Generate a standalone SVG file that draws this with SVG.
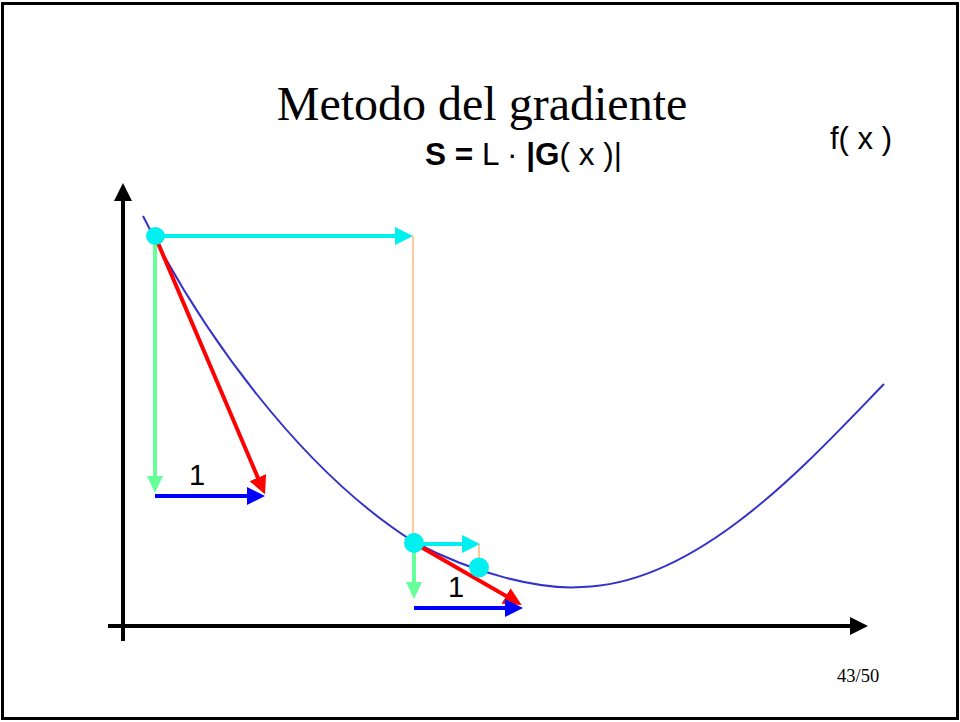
<svg xmlns="http://www.w3.org/2000/svg" width="960" height="722" viewBox="0 0 960 722">
<style>
.ser{font-family:"Liberation Serif","Times New Roman",serif;fill:#000}
.san{font-family:"Liberation Sans",Arial,sans-serif;fill:#000}
.ln{fill:none;stroke-width:4}
</style>
<defs>
<marker id="hk" markerUnits="userSpaceOnUse" markerWidth="20" markerHeight="20" refX="8" refY="9" orient="auto"><path d="M0,0 L18,9 L0,18 z" fill="#000"/></marker>
<marker id="hc" markerUnits="userSpaceOnUse" markerWidth="20" markerHeight="20" refX="8" refY="9" orient="auto"><path d="M0,0 L18,9 L0,18 z" fill="#00f0f0"/></marker>
<marker id="hg" markerUnits="userSpaceOnUse" markerWidth="20" markerHeight="20" refX="8" refY="8" orient="auto"><path d="M0,0 L17,8 L0,16 z" fill="#66ff99"/></marker>
<marker id="hr" markerUnits="userSpaceOnUse" markerWidth="20" markerHeight="20" refX="8" refY="9" orient="auto"><path d="M0,0 L18,9 L0,18 z" fill="#ff0000"/></marker>
<marker id="hb" markerUnits="userSpaceOnUse" markerWidth="20" markerHeight="20" refX="8" refY="9" orient="auto"><path d="M0,0 L18,9 L0,18 z" fill="#0000ff"/></marker>
</defs>
<rect x="2.5" y="3.5" width="955" height="715" fill="#fff" stroke="#000" stroke-width="3"/>
<text class="ser" x="482" y="120" font-size="48" text-anchor="middle">Metodo del gradiente</text>
<text class="san" x="425" y="165" font-size="31.5"><tspan font-weight="bold">S =</tspan> L · <tspan font-weight="bold">|G</tspan>( x )|</text>
<text class="san" x="830" y="149" font-size="31">f( x )</text>
<text class="ser" x="837" y="682" font-size="18.5">43/50</text>
<g id="axes">
<line class="ln" x1="123" y1="641" x2="123" y2="193" stroke="#000" marker-end="url(#hk)"/>
<line class="ln" x1="108" y1="626" x2="858" y2="626" stroke="#000" marker-end="url(#hk)"/>
</g>
<g id="curve">
<path d="M143,216 C200,330 300,470 414,542 C475,574 540,590 582,587 C700,584 810,460 884,384" fill="none" stroke="#3333cc" stroke-width="2"/>
</g>
<g id="connectors">
<line x1="413" y1="236" x2="413" y2="542" stroke="#ffcc99" stroke-width="2"/>
<line x1="479" y1="544" x2="479" y2="562" stroke="#ffcc99" stroke-width="2"/>
<line class="ln" x1="155" y1="236" x2="403" y2="236" stroke="#00f0f0" marker-end="url(#hc)"/>
<line class="ln" x1="155" y1="236" x2="155" y2="484" stroke="#66ff99" stroke-width="3" marker-end="url(#hg)"/>
<line class="ln" x1="155" y1="236" x2="261" y2="485" stroke="#ff0000" marker-end="url(#hr)"/>
<line class="ln" x1="155" y1="496" x2="255" y2="496" stroke="#0000ff" marker-end="url(#hb)"/>
<line class="ln" x1="414" y1="544" x2="470" y2="544" stroke="#00f0f0" marker-end="url(#hc)"/>
<line class="ln" x1="414" y1="543" x2="414" y2="590" stroke="#66ff99" stroke-width="3" marker-end="url(#hg)"/>
<line class="ln" x1="414" y1="543" x2="513" y2="600" stroke="#ff0000" marker-end="url(#hr)"/>
<line class="ln" x1="414" y1="608" x2="513" y2="608" stroke="#0000ff" marker-end="url(#hb)"/>
</g>
<g id="p1"><ellipse cx="155.5" cy="236" rx="9.5" ry="9" fill="#00f0f0"/></g>
<g id="p2"><circle cx="414" cy="543" r="10" fill="#00f0f0"/></g>
<g id="p3"><circle cx="479" cy="567.5" r="10" fill="#00f0f0"/></g>
<text class="san" x="197" y="485" font-size="29" text-anchor="middle">1</text>
<text class="san" x="456" y="597" font-size="29" text-anchor="middle">1</text>
</svg>
